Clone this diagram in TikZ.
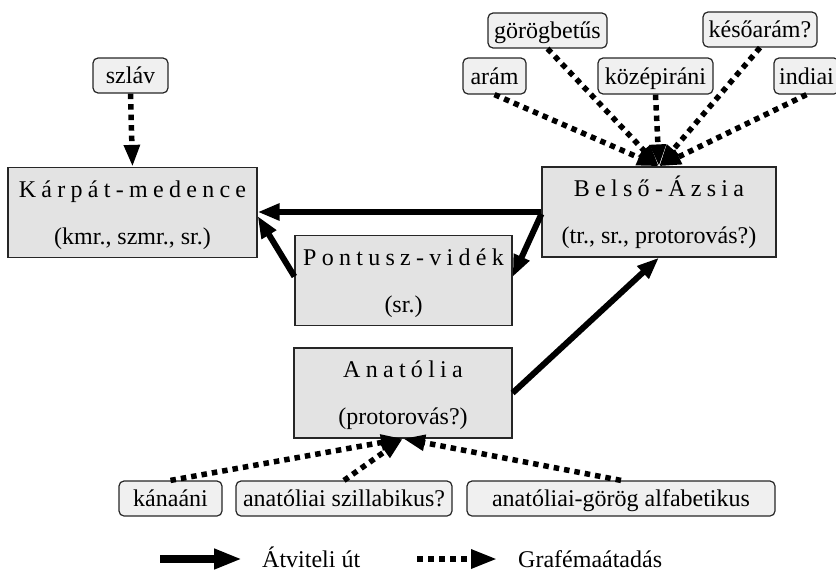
\documentclass[tikz,border=0pt]{standalone}
\usepackage{fontspec}
\setmainfont{Liberation Serif}
\newfontfamily\spacedfont[LetterSpace=22]{Liberation Serif}
\usetikzlibrary{arrows.meta}
\begin{document}
\begin{tikzpicture}[x=1pt,y=-1pt,
  font=\fontsize{24}{28.8}\selectfont,
  bigbox/.style={draw=black!85, line width=1.2pt, fill=gray!22, minimum height=90pt, inner sep=0pt, align=center, font=\fontsize{24}{47}\selectfont},
  smallbox/.style={draw=black!85, line width=1.2pt, fill=gray!12, rounded corners=5pt, minimum height=35pt, inner sep=0pt, text height=16pt, text depth=0pt},
  solidarrow/.style={line width=6pt, -{Triangle[length=22pt,width=16pt]}},
  dotarrow/.style={line width=5.5pt, dash pattern=on 5.5pt off 5pt, -{Triangle[length=22pt,width=15pt]}},
  legendtext/.style={anchor=base west, inner sep=0pt, text depth=0pt}
]
\useasboundingbox (0,0) rectangle (836,573);

% main boxes
\node[bigbox, minimum width=249pt] (karpat) at (132.5,212.5)
  {{\spacedfont Kárpát-medence}\rule{0pt}{22pt}\\(kmr., szmr., sr.)\rule[-5pt]{0pt}{5pt}};
\node[bigbox, minimum width=217pt] (pontusz) at (403.5,280.5)
  {{\spacedfont Pontusz-vidék}\rule{0pt}{22pt}\\(sr.)\rule[-5pt]{0pt}{5pt}};
\node[bigbox, minimum width=234pt] (belso) at (659,212)
  {{\spacedfont Belső-Ázsia}\rule{0pt}{22pt}\\(tr., sr., protorovás?)\rule[-5pt]{0pt}{5pt}};
\node[bigbox, minimum width=218pt] (anatolia) at (403,393)
  {{\spacedfont Anatólia}\rule{0pt}{22pt}\\(protorovás?)\rule[-5pt]{0pt}{5pt}};

% source boxes
\node[smallbox, minimum width=75pt] (szlav) at (130.5,75.5) {szláv};
\node[smallbox, minimum width=119pt] (gorog) at (547.5,30.5) {görögbetűs};
\node[smallbox, minimum width=114pt] (kesoaram) at (760,29.5) {későarám?};
\node[smallbox, minimum width=63pt, minimum height=36pt] (aram) at (494.5,76) {arám};
\node[smallbox, minimum width=115pt, minimum height=36pt] (kozep) at (655.5,76) {középiráni};
\node[smallbox, minimum width=65pt, minimum height=36pt] (indiai) at (806.5,76) {indiai};
\node[smallbox, minimum width=103pt] (kanaani) at (170.5,498.5) {kánaáni};
\node[smallbox, minimum width=216pt] (szill) at (344,498.5) {anatóliai szillabikus?};
\node[smallbox, minimum width=308pt] (alfa) at (621,498.5) {anatóliai-görög alfabetikus};

% transmission routes
\draw[solidarrow] (belso.west) -- (belso.west -| karpat.east);
\draw[solidarrow] ([yshift=-2pt]belso.west) -- ([yshift=3.5pt]pontusz.east);
\draw[solidarrow] ([yshift=4pt]pontusz.west) -- ([yshift=-3.5pt]karpat.east);
\draw[solidarrow] (anatolia.east) -- (belso.south);

% grapheme transfers
\draw[dotarrow] (szlav.south) -- (karpat.north);
\draw[dotarrow] (aram.south) -- (belso.north);
\draw[dotarrow] (gorog.south) -- (belso.north);
\draw[dotarrow] (kozep.south) -- (belso.north);
\draw[dotarrow] (kesoaram.south) -- (belso.north);
\draw[dotarrow] (indiai.south) -- (belso.north);
\draw[dotarrow] (kanaani.north) -- (anatolia.south);
\draw[dotarrow] (szill.north) -- (anatolia.south);
\draw[dotarrow] (alfa.north) -- (anatolia.south);

% legend
\coordinate (ls1) at (160,559);
\coordinate (le1) at (242,559);
\draw[line width=7.5pt, -{Triangle[length=28pt,width=19pt]}] (ls1) -- (le1);
\node[legendtext] (lt1) at (262,567) {Átviteli út};
\coordinate (ls2) at (417,559);
\coordinate (le2) at (497,559);
\draw[line width=6pt, dash pattern=on 6pt off 5pt, -{Triangle[length=26pt,width=18pt]}] (ls2) -- (le2);
\node[legendtext] (lt2) at (518,567) {Grafémaátadás};
\end{tikzpicture}
\end{document}
